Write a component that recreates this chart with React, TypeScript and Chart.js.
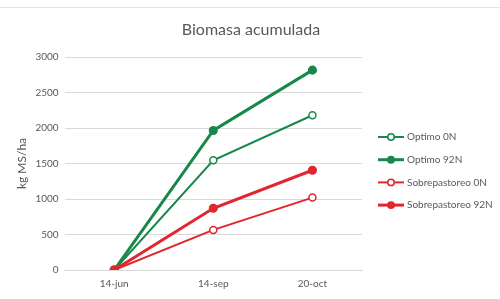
import React, { useEffect, useRef } from "react";
import { Chart, registerables } from "chart.js";

Chart.register(...registerables);

const categories = ["14-jun", "14-sep", "20-oct"];
const optimo0N = [0, 1545, 2180];
const optimo92N = [0, 1965, 2815];
const sobre0N = [0, 565, 1020];
const sobre92N = [0, 870, 1405];
const yTicks = [0, 500, 1000, 1500, 2000, 2500, 3000];
const chartTitle = "Biomasa acumulada";

const GREEN = "#17874a";
const RED = "#e1262f";
const TEXT = "#595959";
const FONT = "Lato";

const decorPlugin = {
  id: "decor",
  afterDraw(chart: any) {
    const ctx = chart.ctx as CanvasRenderingContext2D;
    ctx.save();
    // faint frame edge at top
    ctx.strokeStyle = "#e4e4e4";
    ctx.lineWidth = 1;
    ctx.beginPath();
    ctx.moveTo(0, 7.5);
    ctx.lineTo(chart.width, 7.5);
    ctx.stroke();
    // title
    ctx.fillStyle = TEXT;
    ctx.font = `16px ${FONT}`;
    ctx.textAlign = "center";
    ctx.textBaseline = "middle";
    ctx.fillText(chartTitle, chart.width / 2 + 1, 30);
    // legend
    const x0 = chart.chartArea.right + 16;
    const yStart = 137;
    const step = 22.7;
    chart.data.datasets.forEach((ds: any, i: number) => {
      const y = yStart + i * step;
      ctx.strokeStyle = ds.borderColor;
      ctx.lineWidth = ds.borderWidth;
      ctx.beginPath();
      ctx.moveTo(x0, y);
      ctx.lineTo(x0 + 26, y);
      ctx.stroke();
      ctx.beginPath();
      ctx.arc(x0 + 13, y, 3.2, 0, Math.PI * 2);
      ctx.fillStyle = ds.pointBackgroundColor;
      ctx.fill();
      ctx.lineWidth = 1.5;
      ctx.stroke();
      ctx.fillStyle = TEXT;
      ctx.font = `10px ${FONT}`;
      ctx.textBaseline = "middle";
      ctx.textAlign = "left";
      ctx.fillText(ds.label, x0 + 29, y);
    });
    ctx.restore();
  },
};

export default function App() {
  const ref = useRef<HTMLCanvasElement>(null);
  useEffect(() => {
    const mk = (label: string, data: number[], color: string, filled: boolean, i: number) => ({
      label,
      data,
      borderColor: color,
      backgroundColor: filled ? color : "#ffffff",
      pointBackgroundColor: filled ? color : "#ffffff",
      pointBorderColor: color,
      pointBorderWidth: 1.5,
      pointRadius: filled ? 3.8 : 3.5,
      borderWidth: filled ? 3 : 2,
      tension: 0,
      pointStyle: "circle",
      order: 4 - i,
    });
    const chart = new Chart(ref.current!, {
      type: "line",
      data: {
        labels: categories,
        datasets: [
          mk("Optimo 0N", optimo0N, GREEN, false, 0),
          mk("Optimo 92N", optimo92N, GREEN, true, 1),
          mk("Sobrepastoreo 0N", sobre0N, RED, false, 2),
          mk("Sobrepastoreo 92N", sobre92N, RED, true, 3),
        ],
      },
      plugins: [decorPlugin],
      options: {
        animation: false,
        responsive: false,
        layout: { padding: { top: 57, right: 138, left: 15, bottom: 1 } },
        plugins: {
          tooltip: { enabled: false },
          legend: { display: false },
          title: { display: false },
        },
        scales: {
          x: {
            offset: true,
            grid: { display: false, drawTicks: false },
            border: { display: true, color: "#d9d9d9" },
            ticks: { color: TEXT, font: { family: FONT, size: 10 }, padding: 8 },
          },
          y: {
            min: 0,
            max: 3000,
            afterBuildTicks: (axis: any) => {
              axis.ticks = yTicks.map((v) => ({ value: v }));
            },
            grid: { color: "#d9d9d9", drawTicks: false },
            border: { display: false },
            ticks: {
              color: TEXT,
              font: { family: FONT, size: 10 },
              padding: 6,
              callback: (v: any) => String(v),
            },
            title: {
              display: true,
              text: "kg MS/ha",
              color: TEXT,
              font: { family: FONT, size: 12 },
              padding: { top: 0, bottom: 0 },
            },
          },
        },
      },
    });
    return () => chart.destroy();
  }, []);
  return (
    <div style={{ position: "fixed", left: 0, top: 0, width: 500, height: 299, background: "#fff" }}>
      <canvas ref={ref} width={500} height={299} />
    </div>
  );
}
